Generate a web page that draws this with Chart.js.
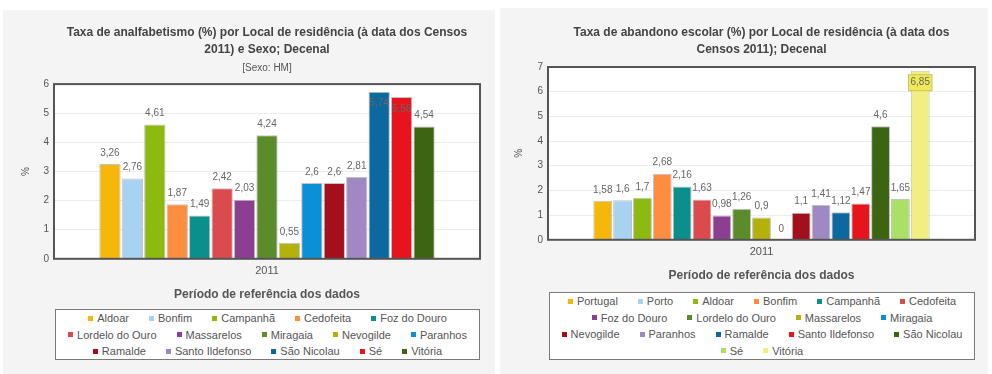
<!DOCTYPE html>
<html lang="pt">
<head>
<meta charset="utf-8">
<script src="https://cdn.jsdelivr.net/npm/chart.js@4.4.1/dist/chart.umd.min.js"></script>
<style>
  html, body { margin: 0; padding: 0; background: #fff; }
  body { width: 992px; height: 374px; position: relative; overflow: hidden;
         font-family: 'Liberation Sans', Arial, sans-serif; }
  .painel { position: absolute; background: #f4f4f4; }
  .painel canvas { position: absolute; left: 0; top: 0; }
  .legenda { position: absolute; box-sizing: border-box; background: #fff;
             border: 1.5px solid #7a7a7a; display: flex; flex-wrap: wrap;
             justify-content: center; align-content: center; column-gap: 20px;
             padding: 0 6px; font-size: 11px; color: #555; }
  .legenda span.item { display: inline-flex; align-items: center; height: 16.5px; white-space: nowrap; }
  .legenda span.quad { width: 5px; height: 5px; margin-right: 4px; display: inline-block; }
</style>
</head>
<body>

<div class="painel" id="painelA" style="left:3px; top:10px; width:492px; height:364px;">
  <canvas id="graficoA" width="492" height="364"></canvas>
  <div class="legenda" id="legendaA" style="left:52px; top:299px; width:425px; height:51px;"></div>
</div>

<div class="painel" id="painelB" style="left:500px; top:8px; width:488px; height:366px;">
  <canvas id="graficoB" width="488" height="366"></canvas>
  <div class="legenda" id="legendaB" style="left:49px; top:284px; width:426px; height:68px;"></div>
</div>

<script>
// dados
const periodo = ['2011'];

const freguesiasA = ['Aldoar', 'Bonfim', 'Campanhã', 'Cedofeita', 'Foz do Douro',
  'Lordelo do Ouro', 'Massarelos', 'Miragaia', 'Nevogilde', 'Paranhos',
  'Ramalde', 'Santo Ildefonso', 'São Nicolau', 'Sé', 'Vitória'];
const analfabetismo = [3.26, 2.76, 4.61, 1.87, 1.49, 2.42, 2.03, 4.24, 0.55, 2.6,
  2.6, 2.81, 5.74, 5.56, 4.54];
const coresA = ['#f5b70a', '#a9d1f2', '#8cba10', '#fd8d3f', '#0b8f8c', '#db4a4d',
  '#8c3f91', '#5b8c2c', '#b5b10c', '#0b90d6', '#a3101b', '#a089c3', '#0b699f',
  '#e8141d', '#3c6411'];

const locaisB = ['Portugal', 'Porto', 'Aldoar', 'Bonfim', 'Campanhã', 'Cedofeita',
  'Foz do Douro', 'Lordelo do Ouro', 'Massarelos', 'Miragaia', 'Nevogilde',
  'Paranhos', 'Ramalde', 'Santo Ildefonso', 'São Nicolau', 'Sé', 'Vitória'];
const abandono = [1.58, 1.6, 1.7, 2.68, 2.16, 1.63, 0.98, 1.26, 0.9, 0, 1.1,
  1.41, 1.12, 1.47, 4.6, 1.65, 6.85];
const coresB = coresA.concat(['#a9e065', '#f2ee82']);

const fonte = "'Liberation Sans', Arial, sans-serif";

// fundo branco e moldura da área do gráfico
const molduraPlugin = {
  id: 'moldura',
  beforeDraw(chart) {
    const a = chart.chartArea, ctx = chart.ctx;
    ctx.save();
    ctx.fillStyle = '#fff';
    ctx.fillRect(a.left, a.top, a.right - a.left, a.bottom - a.top);
    ctx.restore();
  },
  afterDatasetsDraw(chart) {
    const a = chart.chartArea, ctx = chart.ctx;
    ctx.save();
    ctx.strokeStyle = '#555';
    ctx.lineWidth = 2;
    ctx.strokeRect(a.left, a.top, a.right - a.left, a.bottom - a.top);
    ctx.restore();
  }
};

// rótulos dos valores por cima das barras
const rotulosPlugin = {
  id: 'rotulos',
  afterDraw(chart) {
    const ctx = chart.ctx, a = chart.chartArea;
    ctx.save();
    ctx.font = '10px ' + fonte;
    ctx.textAlign = 'center';
    chart.data.datasets.forEach((ds, i) => {
      const bar = chart.getDatasetMeta(i).data[0];
      const txt = String(ds.data[0]).replace('.', ',');
      let y = bar.y - 11;
      if (y - 7 < a.top) {
        y = bar.y + 12;
        if (ds.caixa) {
          const w = ctx.measureText(txt).width + 4;
          ctx.fillStyle = '#f2ea55';
          ctx.strokeStyle = '#c9c26a';
          ctx.lineWidth = 1;
          ctx.fillRect(bar.x - w / 2, y - 8, w, 16);
          ctx.strokeRect(bar.x - w / 2, y - 8, w, 16);
        }
      }
      ctx.fillStyle = '#666';
      ctx.textBaseline = 'middle';
      ctx.fillText(txt, bar.x, y);
    });
    ctx.restore();
  }
};

function criarGrafico(id, nomes, valores, cores, titulo, subtitulo, maxY, eixoLarg, padding, padTitulo) {
  const datasets = nomes.map((nome, i) => ({
    label: nome,
    data: [valores[i]],
    backgroundColor: cores[i],
    borderColor: 'rgba(120,120,120,0.45)',
    borderWidth: 1,
    caixa: i === nomes.length - 1 && id === 'graficoB'
  }));

  return new Chart(document.getElementById(id), {
    type: 'bar',
    data: { labels: periodo, datasets: datasets },
    options: {
      responsive: false,
      animation: false,
      categoryPercentage: 0.79,
      barPercentage: 0.95,
      layout: { padding: padding },
      plugins: {
        legend: { display: false },
        tooltip: { enabled: false },
        title: {
          display: true,
          fullSize: false,
          text: titulo,
          color: '#444',
          font: { family: fonte, size: 12, weight: 'bold', lineHeight: 1.4 },
          padding: padTitulo
        },
        subtitle: {
          display: !!subtitulo,
          fullSize: false,
          text: subtitulo || '',
          color: '#555',
          font: { family: fonte, size: 10, lineHeight: 1.2 },
          padding: { top: 4, bottom: 10 }
        }
      },
      scales: {
        x: {
          grid: { display: false, drawTicks: false },
          border: { display: false },
          ticks: { color: '#555', font: { family: fonte, size: 11 }, padding: 6 },
          title: {
            display: true,
            text: 'Período de referência dos dados',
            color: '#555',
            font: { family: fonte, size: 12, weight: 'bold' },
            padding: { top: 3.6, bottom: 0 }
          }
        },
        y: {
          min: 0,
          max: maxY,
          ticks: { stepSize: 1, color: '#555', font: { family: fonte, size: 10 }, padding: 5 },
          grid: { color: '#ececec', drawTicks: false },
          border: { display: false },
          title: {
            display: true,
            text: '%',
            color: '#555',
            font: { family: fonte, size: 10 },
            padding: { top: 0, bottom: 0 }
          },
          afterFit(scale) { scale.width = eixoLarg; }
        }
      }
    },
    plugins: [molduraPlugin, rotulosPlugin]
  });
}

function criarLegenda(id, nomes, cores) {
  const el = document.getElementById(id);
  nomes.forEach((nome, i) => {
    const item = document.createElement('span');
    item.className = 'item';
    const q = document.createElement('span');
    q.className = 'quad';
    q.style.background = cores[i];
    item.appendChild(q);
    item.appendChild(document.createTextNode(nome));
    el.appendChild(item);
  });
}

criarGrafico('graficoA', freguesiasA, analfabetismo, coresA,
  ['Taxa de analfabetismo (%) por Local de residência (à data dos Censos', '2011) e Sexo; Decenal'],
  '[Sexo: HM]', 6, 34, { left: 17, right: 15, top: 0, bottom: 72 }, { top: 14.5, bottom: 0 });

criarGrafico('graficoB', locaisB, abandono, coresB,
  ['Taxa de abandono escolar (%) por Local de residência (à data dos', 'Censos 2011); Decenal'],
  null, 7, 35, { left: 13, right: 13, top: 0, bottom: 91 }, { top: 16.6, bottom: 8.8 });

criarLegenda('legendaA', freguesiasA, coresA);
criarLegenda('legendaB', locaisB, coresB);
</script>
</body>
</html>
